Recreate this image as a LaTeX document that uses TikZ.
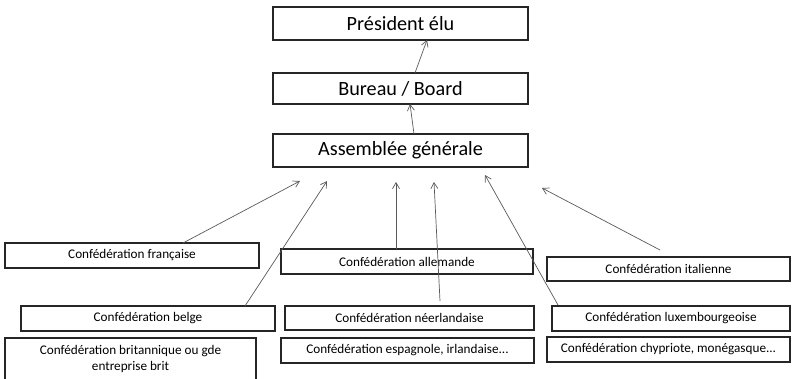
\documentclass[tikz,border=0pt]{standalone}
\usepackage{fontspec}
\setmainfont{Carlito}
\usetikzlibrary{arrows.meta}
\begin{document}
\begin{tikzpicture}[x=1pt,y=-1pt,
  box/.style={draw=black!85,line width=1.3pt},
  big/.style={font=\fontsize{20.2}{22}\selectfont},
  small/.style={font=\fontsize{13.2}{16.5}\selectfont},
  arr/.style={draw=black!65,line width=0.7pt,-{Straight Barb[length=6pt,width=7pt]}}]
\useasboundingbox (0,0) rectangle (792,378);
% top boxes
\draw[box] (273,7) rectangle (528,40);
\node[big] (pres) at (400.5,23.5) {Président élu};
\draw[box] (273,73) rectangle (528,104);
\node[big] (bur) at (400.5,88.5) {Bureau / Board};
\draw[box] (273,134) rectangle (528,167);
\node[big] (ag) at (400.5,150.5) {Assemblée générale};
% lower boxes
\draw[box] (5,243) rectangle (259,268);
\node[small] (fr) at (132,255.5) {Confédération française};
\draw[box] (281,249) rectangle (533,274);
\node[small] (de) at (407,261.5) {Confédération allemande};
\draw[box] (547,257) rectangle (790,281);
\node[small] (it) at (668.5,269) {Confédération italienne};
\draw[box] (21,306) rectangle (275,331);
\node[small] (be) at (148,318.5) {Confédération belge};
\draw[box] (285,306) rectangle (534,330);
\node[small] (nl) at (409.5,318) {Confédération néerlandaise};
\draw[box] (552,306) rectangle (790,331);
\node[small] (lu) at (671,318.5) {Confédération luxembourgeoise};
\draw[box] (5,338) rectangle (256,390);
\node[small,align=center] (gb) at (130.5,359) {Confédération britannique ou  gde\\entreprise brit};
\draw[box] (281,338) rectangle (534,363);
\node[small] (es) at (407.5,350.5) {Confédération espagnole, irlandaise...};
\draw[box] (547,337) rectangle (790,362);
\node[small] (cy) at (668.5,349.5) {Confédération chypriote,  monégasque...};
% connector end points
\coordinate (b1) at (414,134); \coordinate (b1e) at (410,104);
\coordinate (p1) at (415,73); \coordinate (p1e) at (427,40);
\coordinate (s1) at (183,243); \coordinate (e1) at (300,181);
\coordinate (s2) at (245,306); \coordinate (e2) at (327,181);
\coordinate (s3) at (396,249); \coordinate (e3) at (396,182);
\coordinate (s4) at (440,301); \coordinate (e4) at (434,182);
\coordinate (s5) at (558,305); \coordinate (e5) at (485,175);
\coordinate (s6) at (660,250); \coordinate (e6) at (542,188);
\draw[arr] (b1) -- (b1e);
\draw[arr] (p1) -- (p1e);
\draw[arr] (s1) -- (e1);
\draw[arr] (s2) -- (e2);
\draw[arr] (s3) -- (e3);
\draw[arr] (s4) -- (e4);
\draw[arr] (s5) -- (e5);
\draw[arr] (s6) -- (e6);
\end{tikzpicture}
\end{document}
